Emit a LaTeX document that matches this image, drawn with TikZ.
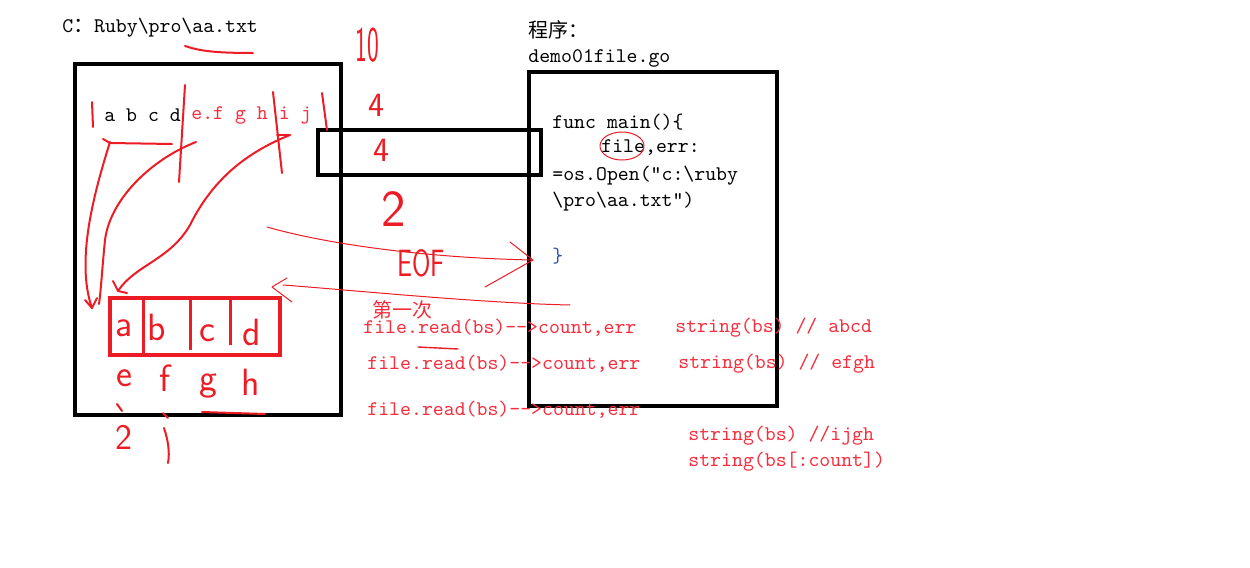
\documentclass[tikz,border=0pt]{standalone}
\usepackage{fontspec}
\usepackage{graphicx}
\newfontfamily\cjk{Noto Sans CJK SC}
\usetikzlibrary{positioning}

\definecolor{penred}{RGB}{237,28,36}
\definecolor{inkred}{RGB}{245,45,60}
\definecolor{braceblue}{RGB}{50,80,170}

\tikzset{
  txt/.style={font=\ttfamily\fontsize{10.4}{12}\selectfont, inner sep=0pt, anchor=west},
  redtxt/.style={txt, text=inkred},
  cjktxt/.style={font=\cjk\fontsize{10}{12}\selectfont, inner sep=0pt, anchor=west},
  hand/.style={text=penred, inner sep=0pt, font=\sffamily\fontsize{#1}{#1}\selectfont},
  frame/.style={draw=black, line width=2pt},
  buf/.style={draw=penred, line width=2pt},
  pen/.style={draw=penred, line width=1pt, line cap=round, line join=round},
  thinpen/.style={draw=penred, line width=0.5pt, line cap=round, line join=round}
}

\begin{document}
\begin{tikzpicture}[x=0.5pt, y=-0.5pt]
\useasboundingbox (0,0) rectangle (1250,568);

% the file
\node[txt] (path) at (62,28) {C{\cjk ：}Ruby\textbackslash pro\textbackslash aa.txt};
\draw[pen] (185,46) .. controls (200,51) and (215,53) .. (253,53);
\draw[frame] (75,64) rectangle (341,415);
\node[txt] (abcd) at (104,115) {a b c d};
\node[redtxt] (efghij) at (191,115) {e.f g h i j};

% the program
\node[cjktxt] (prog) at (528,30) {程序：};
\node[txt] (gofile) at (528,58) {demo01file.go};
\draw[frame] (529,72) rectangle (777,406);
\draw[frame] (318,130) rectangle (541,175);
\node[txt] (code1) at (552,122) {func main()\{};
\node[txt] (code2) at (601,148) {file,err:};
\node[txt] (code3) at (552,176) {=os.Open(”c:\textbackslash ruby};
\node[txt] (code4) at (552,202) {\textbackslash pro\textbackslash aa.txt”)};
\node[txt, text=braceblue] (code5) at (552,256) {\}};
\draw[thinpen] (622,146) ellipse [x radius=22, y radius=14];

% handwritten counts
\node[hand=25] (ten) at (367,45) {\scalebox{0.5}[1]{10}};
\node[hand=17] (four1) at (376,105) {4};
\node[hand=17] (four2) at (381,150) {4};
\node[hand=26] (two) at (394,209) {2};
\node[hand=19] (eof) at (421,263) {\scalebox{0.7}[1]{EOF}};

% marks on the text line
\draw[pen] (92,102) -- (93,127);
\draw[pen] (185,85) -- (179,182);
\draw[pen] (273,92) -- (282,173);
\draw[pen] (277,135) -- (290,135);
\draw[pen] (322,93) -- (327,130);
\draw[pen] (103,139) -- (110,143) -- (172,144);

% the buffer
\draw[buf] (110,298) rectangle (280,355);
\draw[buf, line width=1.5pt] (143,298) -- (143,355);
\draw[buf, line width=1.5pt] (190,298) -- (190,350);
\draw[buf, line width=1.5pt] (230,298) -- (230,345);
\node[hand=19] (ca) at (124,328) {a};
\node[hand=19] (cb) at (157,327) {b};
\node[hand=19] (cc) at (207,333) {c};
\node[hand=19] (cd) at (252,332) {d};
\node[hand=19] (ce) at (124,378) {e};
\node[hand=19] (cf) at (165,378) {f};
\node[hand=19] (cg) at (208,386) {g};
\node[hand=19] (ch) at (251,382) {h};
\node[hand=18] (ctwo) at (124,437) {2};
\draw[pen] (117,404) -- (122,411);
\draw[pen] (163,413) -- (168,418);
\draw[pen] (164,428) .. controls (168,440) and (170,452) .. (168,463);
\draw[pen] (202,412) -- (265,414);

% reading into the buffer
\coordinate (abcdTop) at (110,142);
\coordinate (efghTop) at (196,142);
\coordinate (ijTop) at (290,135);
\coordinate (bufA) at (92,308);
\coordinate (bufB) at (99,304);
\coordinate (bufC) at (118,291);
\draw[pen] (abcdTop) .. controls (95,190) and (75,260) .. (bufA);
\draw[pen] (85,300) -- (bufA) -- (97,298);
\draw[pen] (efghTop) .. controls (150,160) and (110,200) .. (105,240) .. controls (102,270) and (101,290) .. (bufB);
\draw[pen] (ijTop) .. controls (240,155) and (210,185) .. (190,225) .. controls (170,260) and (135,265) .. (bufC);
\draw[pen] (113,281) -- (bufC) -- (127,293);

% EOF and the next read
\coordinate (eofS) at (267,227);
\coordinate (eofT) at (533,260);
\draw[thinpen] (eofS) .. controls (330,245) and (430,258) .. (eofT);
\draw[thinpen] (510,242) -- (eofT) -- (485,287);
\coordinate (nextS) at (570,305);
\coordinate (nextT) at (272,287);
\draw[thinpen] (nextS) .. controls (480,303) and (350,290) .. (283,285);
\draw[thinpen] (287,278) -- (nextT) -- (292,302);

% the reads
\node[cjktxt, text=inkred] (first) at (372,310) {第一次};
\node[redtxt] (read1) at (363,328) {file.read(bs)-->count,err};
\node[redtxt] (read2) at (367,364) {file.read(bs)-->count,err};
\node[redtxt] (read3) at (367,410) {file.read(bs)-->count,err};
\draw[pen, line width=0.7pt] (418,347) -- (458,349);
\node[redtxt] (str1) at (675,328) {string(bs) // abcd};
\node[redtxt] (str2) at (678,364) {string(bs) // efgh};
\node[redtxt] (str3) at (688,436) {string(bs) //ijgh};
\node[redtxt] (str4) at (688,462) {string(bs[:count])};
\end{tikzpicture}
\end{document}
